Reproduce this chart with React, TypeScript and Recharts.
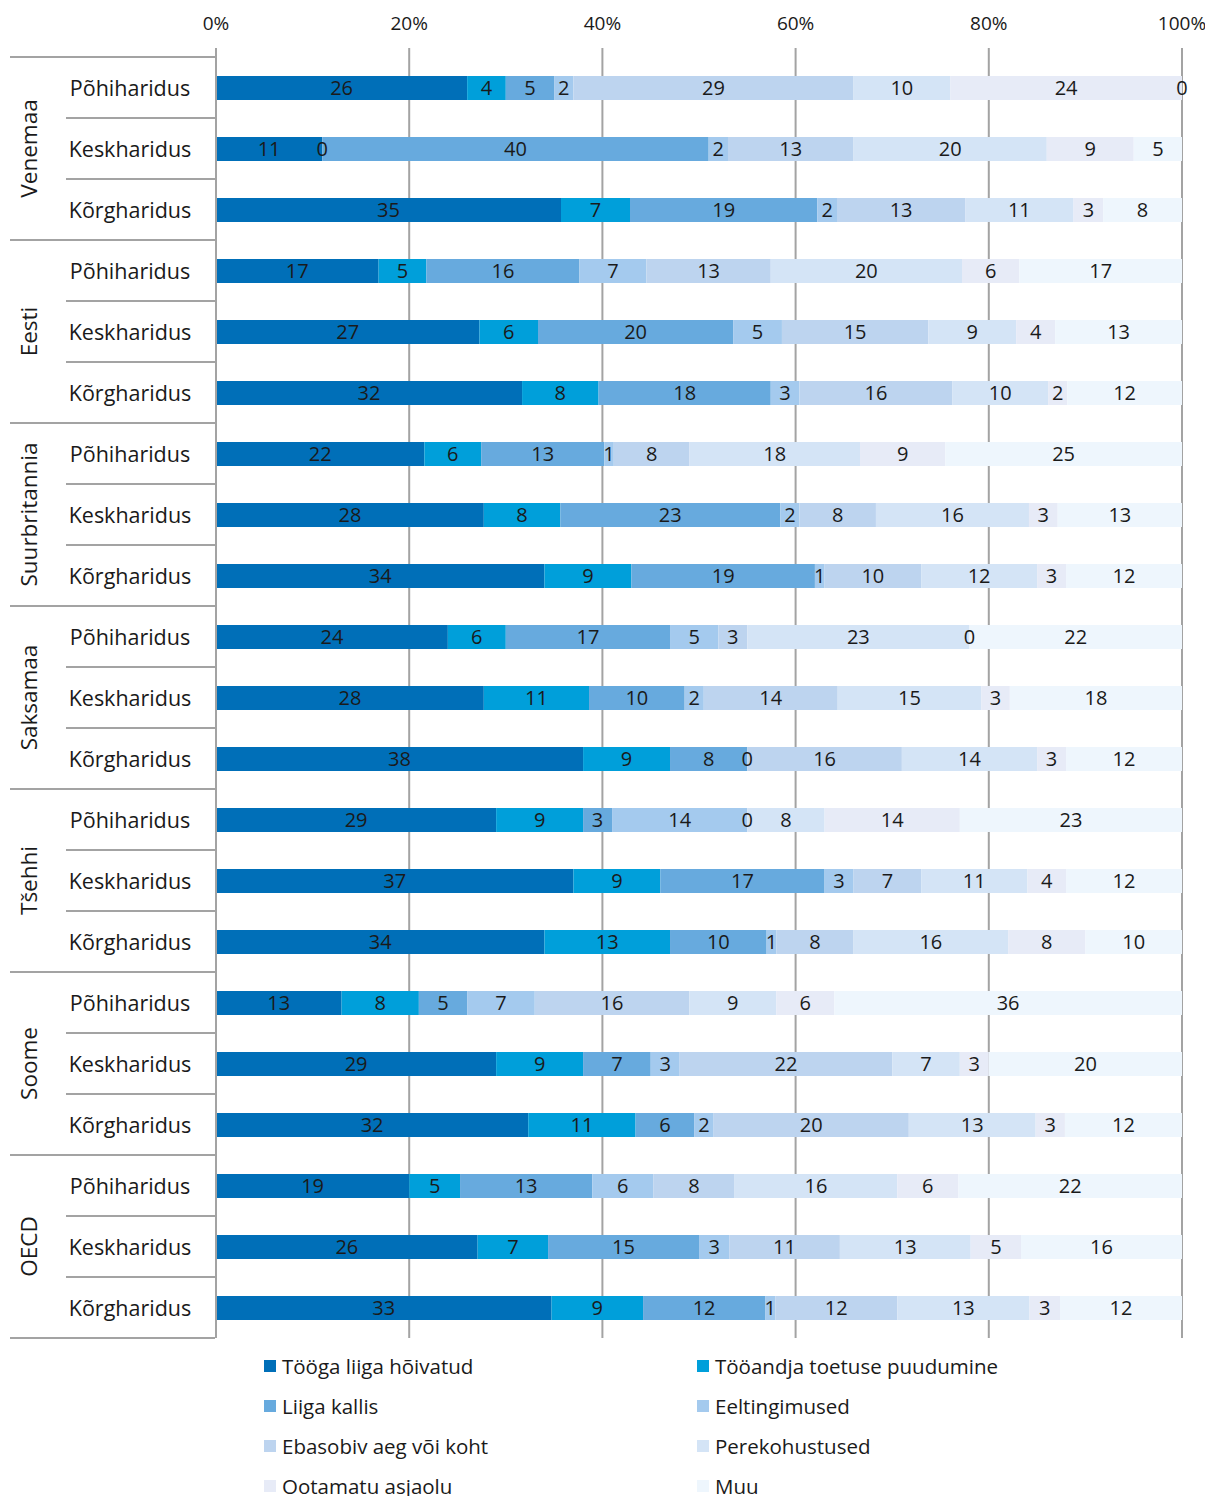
import React from "react";
import { BarChart, Bar, XAxis, YAxis, CartesianGrid, LabelList } from "recharts";

const groups = ["Venemaa", "Eesti", "Suurbritannia", "Saksamaa", "Tšehhi", "Soome", "OECD"];
const education = ["Põhiharidus", "Keskharidus", "Kõrgharidus"];
const xTicks = [0, 0.2, 0.4, 0.6, 0.8, 1];

const seriesNames = [
  "Tööga liiga hõivatud",
  "Tööandja toetuse puudumine",
  "Liiga kallis",
  "Eeltingimused",
  "Ebasobiv aeg või koht",
  "Perekohustused",
  "Ootamatu asjaolu",
  "Muu",
];
const seriesColors = ["#006fb8", "#009fda", "#67aade", "#a4caee", "#bdd4ef", "#d4e4f6", "#e7ebf7", "#eef6fd"];

const tooga = [26, 11, 35, 17, 27, 32, 22, 28, 34, 24, 28, 38, 29, 37, 34, 13, 29, 32, 19, 26, 33];
const tooandja = [4, 0, 7, 5, 6, 8, 6, 8, 9, 6, 11, 9, 9, 9, 13, 8, 9, 11, 5, 7, 9];
const kallis = [5, 40, 19, 16, 20, 18, 13, 23, 19, 17, 10, 8, 3, 17, 10, 5, 7, 6, 13, 15, 12];
const eeltingimused = [2, 2, 2, 7, 5, 3, 1, 2, 1, 5, 2, 0, 14, 3, 1, 7, 3, 2, 6, 3, 1];
const ebasobiv = [29, 13, 13, 13, 15, 16, 8, 8, 10, 3, 14, 16, 0, 7, 8, 16, 22, 20, 8, 11, 12];
const pere = [10, 20, 11, 20, 9, 10, 18, 16, 12, 23, 15, 14, 8, 11, 16, 9, 7, 13, 16, 13, 13];
const ootamatu = [24, 9, 3, 6, 4, 2, 9, 3, 3, 0, 3, 3, 14, 4, 8, 6, 3, 3, 6, 5, 3];
const muu = [0, 5, 8, 17, 13, 12, 25, 13, 12, 22, 18, 12, 23, 12, 10, 36, 20, 12, 22, 16, 12];

const seriesValues = [tooga, tooandja, kallis, eeltingimused, ebasobiv, pere, ootamatu, muu];

const data = groups.flatMap((g, gi) =>
  education.map((e, ei) => {
    const idx = gi * 3 + ei;
    const row: Record<string, any> = { id: g + "|" + e, group: g, edu: e };
    seriesValues.forEach((arr, si) => {
      row["s" + si] = arr[idx];
    });
    return row;
  })
);

const FONT = "'Open Sans', 'Noto Sans', sans-serif";
const CHART_W = 1200;
const CHART_H = 1340;
const MARGIN = { top: 0, right: 26, left: 0, bottom: 10 };
const X_AXIS_H = 40;
const Y_PAD_TOP = 9;
const Y_AXIS_W = 208;
const PLOT_H = CHART_H - MARGIN.top - MARGIN.bottom - X_AXIS_H - Y_PAD_TOP;
const HALF_BAND = PLOT_H / data.length / 2;
const LINE = "#a3a3a3";

const YTick = (props: any) => {
  const { y, index } = props;
  const gi = Math.floor(index / 3);
  const pos = index % 3;
  const row = data[index];
  const edge = Y_AXIS_W - 1;
  return (
    <g>
      <text x={122} y={y} textAnchor="middle" dominantBaseline="central" fill="#1a1a1a" fontSize={21.5} fontFamily={FONT}>
        {row.edu}
      </text>
      {pos === 0 && <line x1={2} x2={edge} y1={y - HALF_BAND} y2={y - HALF_BAND} stroke={LINE} strokeWidth={2} />}
      <line x1={pos === 2 ? 2 : 58} x2={edge} y1={y + HALF_BAND} y2={y + HALF_BAND} stroke={LINE} strokeWidth={2} />
      {pos === 1 && (
        <text
          x={20}
          y={y}
          transform={`rotate(-90 20 ${y})`}
          textAnchor="middle"
          dominantBaseline="central"
          fill="#1a1a1a"
          fontSize={22.5}
          fontFamily={FONT}
        >
          {groups[gi]}
        </text>
      )}
    </g>
  );
};

const Legend2 = () => (
  <div
    style={{
      display: "grid",
      gridTemplateColumns: "433px 433px",
      paddingLeft: 256,
      marginTop: -2,
      fontFamily: FONT,
      fontSize: 20.5,
      color: "#1a1a1a",
    }}
  >
    {seriesNames.map((n, i) => (
      <div key={n} style={{ height: 40, display: "flex", alignItems: "center" }}>
        <span style={{ width: 12, height: 12, background: seriesColors[i], display: "inline-block", marginRight: 6 }} />
        <span>{n}</span>
      </div>
    ))}
  </div>
);

export default function App() {
  return (
    <div style={{ width: CHART_W }}>
      <BarChart
        width={CHART_W}
        height={CHART_H}
        data={data}
        layout="vertical"
        stackOffset="expand"
        margin={MARGIN}
        barSize={24}
      >
        <CartesianGrid horizontal={false} vertical={true} stroke={LINE} strokeWidth={2} />
        <XAxis
          type="number"
          orientation="top"
          domain={[0, 1]}
          ticks={xTicks}
          tickFormatter={(v: number) => Math.round(v * 100) + "%"}
          axisLine={false}
          tickLine={false}
          height={X_AXIS_H}
          tickMargin={12}
          tick={{ fill: "#1a1a1a", fontSize: 19, fontFamily: FONT }}
          interval={0}
        />
        <YAxis
          type="category"
          dataKey="id"
          width={Y_AXIS_W}
          axisLine={{ stroke: LINE, strokeWidth: 2 }}
          tickLine={false}
          interval={0}
          padding={{ top: Y_PAD_TOP, bottom: 0 }}
          tick={<YTick />}
        />
        {seriesNames.map((n, si) => (
          <Bar
            key={n}
            dataKey={"s" + si}
            name={n}
            stackId="a"
            fill={seriesColors[si]}
            isAnimationActive={false}
            minPointSize={(_v: any, i: number) => (seriesValues[si][i] === 0 ? 0.01 : 0)}
          >
            <LabelList dataKey={"s" + si} position="center" fill="#1a1a1a" fontSize={20} fontFamily={FONT} />
          </Bar>
        ))}
      </BarChart>
      <Legend2 />
    </div>
  );
}
